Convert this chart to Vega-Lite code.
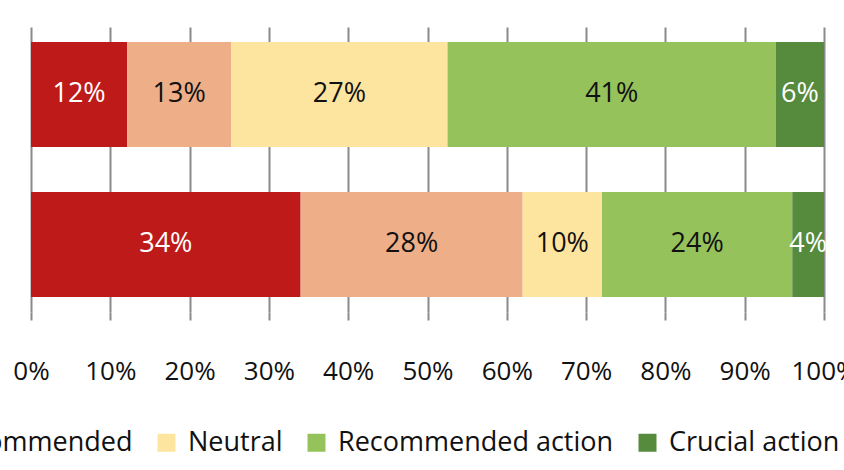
{
  "$schema": "https://vega.github.io/schema/vega-lite/v6.json",
  "width": 793,
  "height": 285,
  "autosize": {"type": "none"},
  "padding": {"left": 31, "top": 27, "right": 20, "bottom": 158},
  "background": "white",
  "data": {
    "values": [
      {"group": "A", "category": "Strongly not recommended", "order": 1, "value": 12, "label": "12%"},
      {"group": "A", "category": "Not recommended", "order": 2, "value": 13, "label": "13%"},
      {"group": "A", "category": "Neutral", "order": 3, "value": 27, "label": "27%"},
      {"group": "A", "category": "Recommended action", "order": 4, "value": 41, "label": "41%"},
      {"group": "A", "category": "Crucial action", "order": 5, "value": 6, "label": "6%"},
      {"group": "B", "category": "Strongly not recommended", "order": 1, "value": 34, "label": "34%"},
      {"group": "B", "category": "Not recommended", "order": 2, "value": 28, "label": "28%"},
      {"group": "B", "category": "Neutral", "order": 3, "value": 10, "label": "10%"},
      {"group": "B", "category": "Recommended action", "order": 4, "value": 24, "label": "24%"},
      {"group": "B", "category": "Crucial action", "order": 5, "value": 4, "label": "4%"}
    ]
  },
  "transform": [
    {"stack": "value", "groupby": ["group"], "sort": [{"field": "order"}], "offset": "normalize", "as": ["x0", "x1"]},
    {"calculate": "(datum.x0 + datum.x1) / 2", "as": "xmid"}
  ],
  "encoding": {
    "y": {
      "field": "group", "type": "nominal", "sort": ["A", "B"],
      "scale": {"paddingInner": 0.3, "paddingOuter": 0.1},
      "axis": null
    }
  },
  "layer": [
    {
      "mark": {"type": "bar", "stroke": null},
      "encoding": {
        "x": {
          "field": "x0", "type": "quantitative",
          "scale": {"domain": [0, 1], "nice": false, "zero": true},
          "axis": {
            "values": [0, 0.1, 0.2, 0.3, 0.4, 0.5, 0.6, 0.7, 0.8, 0.9, 1],
            "format": ".0%",
            "title": null,
            "domain": false,
            "grid": true,
            "gridColor": "#8a8a8a",
            "gridWidth": 2,
            "gridOpacity": 1,
            "ticks": true,
            "tickColor": "#8a8a8a",
            "tickWidth": 2,
            "tickSize": 8,
            "labelFont": "Open Sans",
            "labelFontSize": 26,
            "labelColor": "#111",
            "labelPadding": 38,
            "labelFlush": false,
            "labelOverlap": false
          }
        },
        "x2": {"field": "x1"},
        "color": {
          "field": "category", "type": "nominal",
          "scale": {
            "domain": ["Strongly not recommended", "Not recommended", "Neutral", "Recommended action", "Crucial action"],
            "range": ["#bf1a1a", "#eeae88", "#fde59f", "#96c25c", "#568a3c"]
          },
          "legend": {
            "orient": "none",
            "direction": "horizontal",
            "legendX": -573,
            "legendY": 402,
            "title": null,
            "symbolType": "square",
            "symbolSize": 324,
            "symbolStrokeWidth": 0,
            "labelFont": "Open Sans",
            "labelFontSize": 27,
            "labelColor": "#111",
            "labelOffset": 8,
            "columnPadding": 20,
            "labelLimit": 500
          }
        }
      }
    },
    {
      "mark": {"type": "text", "font": "Open Sans", "fontSize": 27, "align": "center", "baseline": "middle", "dy": -1},
      "encoding": {
        "x": {"field": "xmid", "type": "quantitative"},
        "text": {"field": "label", "type": "nominal"},
        "color": {
          "condition": {"test": "datum.category === 'Strongly not recommended' || datum.category === 'Crucial action'", "value": "#ffffff"},
          "value": "#111111"
        }
      }
    }
  ],
  "config": {"view": {"stroke": null}}
}
